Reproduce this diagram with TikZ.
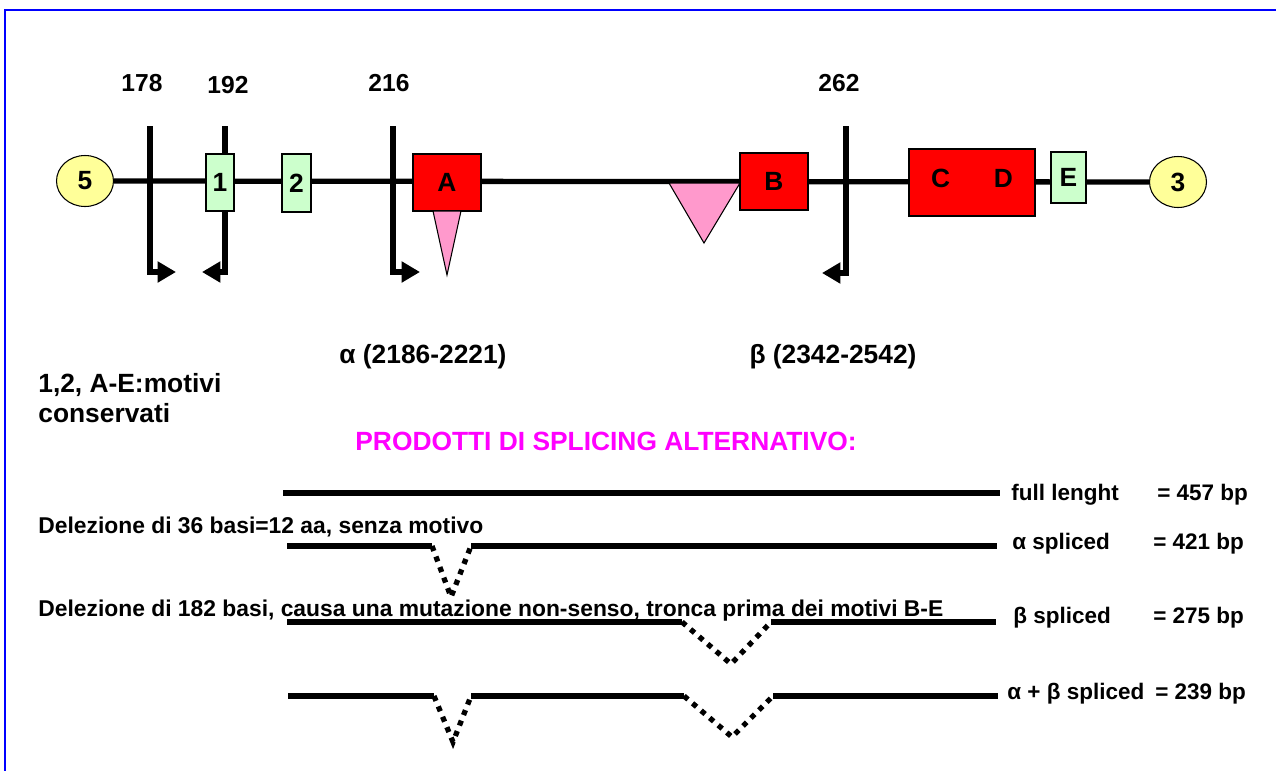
\documentclass[tikz,border=0pt]{standalone}
\usepackage{fontspec}
\setmainfont{Liberation Sans}
\usetikzlibrary{arrows.meta,shapes.geometric}

\definecolor{giallo}{HTML}{FFFF99}
\definecolor{verde}{HTML}{CCFFCC}
\definecolor{rosa}{HTML}{FF99CC}
\definecolor{fucsia}{HTML}{FF00FF}

\tikzset{
  estremo/.style={ellipse, draw=black, line width=0.6pt, fill=giallo, minimum width=1.14cm, minimum height=1.02cm, inner sep=0pt, font=\fontsize{15}{17}\selectfont\bfseries},
  motivo/.style={rectangle, draw=black, line width=0.6pt, inner sep=0pt, font=\fontsize{15}{17}\selectfont\bfseries},
  taglio/.style={line width=3pt, -{Triangle[length=10.5pt,width=11.5pt]}},
  filo/.style={line width=3pt},
  salto/.style={line width=3pt, dash pattern=on 3pt off 3.4pt},
  posizione/.style={inner sep=0pt, font=\fontsize{14}{16}\selectfont\bfseries},
  titolo/.style={inner sep=0pt, font=\fontsize{15}{17}\selectfont\bfseries},
  etichetta/.style={inner sep=0pt, anchor=west, font=\fontsize{12.8}{15}\selectfont\bfseries},
  nota/.style={inner sep=0pt, anchor=west, font=\fontsize{13}{15}\selectfont\bfseries}
}

\begin{document}
\begin{tikzpicture}[x=0.02cm, y=-0.02cm]
  \useasboundingbox (0,0) rectangle (1276,771);
  % Cornice
  \draw[blue, line width=1.7pt] (5,771) -- (5,10) -- (1276,10);

  % Estremi 5' e 3'
  \node[estremo] (p5) at (85,181) {5};
  \node[estremo] (p3) at (1178,182) {3};
  \draw[filo] (p5) -- (p3);

  % Siti di taglio
  \coordinate (t178) at (150,126);
  \coordinate (e178) at (176,272);
  \coordinate (t192) at (225,126);
  \coordinate (e192) at (202,272);
  \coordinate (t216) at (393,126);
  \coordinate (e216) at (420,272);
  \coordinate (t262) at (846,126);
  \coordinate (e262) at (822,273);
  \draw[taglio] (t178) |- (e178);
  \draw[taglio] (t192) |- (e192);
  \draw[taglio] (t216) |- (e216);
  \draw[taglio] (t262) |- (e262);

  \node[posizione] (n178) at (142,83) {178};
  \node[posizione] (n192) at (228,85) {192};
  \node[posizione] (n216) at (389,83) {216};
  \node[posizione] (n262) at (839,83) {262};

  % Motivi conservati
  \node[motivo, fill=verde, minimum width=0.56cm, minimum height=1.14cm] (m1) at (220,182.5) {1};
  \node[motivo, fill=verde, minimum width=0.58cm, minimum height=1.16cm] (m2) at (296.5,183) {2};
  \node[motivo, fill=red, minimum width=1.36cm, minimum height=1.14cm] (mA) at (447,182.5) {A};
  \node[motivo, fill=red, minimum width=1.36cm, minimum height=1.14cm] (mB) at (774,181.5) {B};
  \node[motivo, fill=red, minimum width=2.52cm, minimum height=1.34cm] (mCD) at (972,182.5) {\raisebox{4.3pt}{C\hspace{25pt}D}};
  \node[motivo, fill=verde, minimum width=0.70cm, minimum height=1.02cm] (mE) at (1068.5,177.5) {E};

  % Regioni alfa e beta
  \draw[fill=rosa, line width=0.6pt] (433,211) -- (461,211) -- (447,275) -- cycle;
  \draw[fill=rosa, line width=0.6pt] (669,183) -- (740,183) -- (704,243) -- cycle;

  \node[titolo] (alfa) at (423,357) {α (2186-2221)};
  \node[titolo] (beta) at (833,357) {β (2342-2542)};
  \node[titolo, align=left, anchor=north west, text depth=0pt] (legenda) at (38,373) {1,2, A-E:motivi\\conservati};
  \node[titolo, text=fucsia] (prodotti) at (606,441) {PRODOTTI DI SPLICING ALTERNATIVO:};

  % Prodotti di splicing
  \draw[filo] (283,493) -- (1000,493);

  \draw[filo] (287,546) -- (432,546);
  \draw[salto] (432,546) -- (451,597) -- (471,546);
  \draw[filo] (471,546) -- (997,546);

  \draw[filo] (287,622) -- (682,622);
  \draw[salto] (682,622) -- (731,664) -- (771,622);
  \draw[filo] (771,622) -- (996,622);

  \draw[filo] (288,696) -- (434,696);
  \draw[salto] (434,696) -- (453,742) -- (471,696);
  \draw[filo] (471,696) -- (684,696);
  \draw[salto] (684,696) -- (732,737) -- (773,696);
  \draw[filo] (773,696) -- (998,696);

  \node[etichetta] (full) at (1011,495) {full lenght};
  \node[etichetta] (fullbp) at (1157,495) {= 457 bp};
  \node[etichetta] (alfasp) at (1012,544) {α spliced};
  \node[etichetta] (alfabp) at (1153,544) {= 421 bp};
  \node[etichetta] (betasp) at (1013,618) {β spliced};
  \node[etichetta] (betabp) at (1153,618) {= 275 bp};
  \node[etichetta] (entrambi) at (1007,694) {α + β spliced};
  \node[etichetta] (entrambibp) at (1155,694) {= 239 bp};

  \node[nota] (nota1) at (38,527) {Delezione di 36 basi=12 aa, senza motivo};
  \node[nota] (nota2) at (38,611) {Delezione di 182 basi, causa una mutazione non-senso, tronca prima dei motivi B-E};
\end{tikzpicture}
\end{document}
